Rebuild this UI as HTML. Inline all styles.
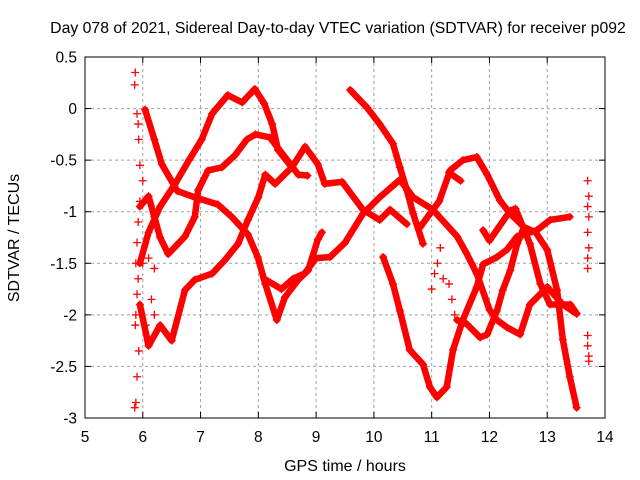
<!DOCTYPE html>
<html><head><meta charset="utf-8"><style>
body{margin:0;background:#fff}
svg{display:block;font-family:"Liberation Sans",sans-serif}
</style></head><body>
<svg id="chart" width="640" height="480">
<rect width="640" height="480" fill="#fff"/>
<g id="grid"></g>
<g id="tracks"></g>
<g id="axes"></g>
<text x="338" y="33" text-anchor="middle" font-size="15.8">Day 078 of 2021, Sidereal Day-to-day VTEC variation (SDTVAR) for receiver p092</text>
<text x="345" y="471" text-anchor="middle" font-size="16">GPS time / hours</text>
<text transform="translate(19,238) rotate(-90)" text-anchor="middle" font-size="16">SDTVAR / TECUs</text>
</svg>
<script>
const xTicks=[5,6,7,8,9,10,11,12,13,14];
const yTicks=[0.5,0,-0.5,-1,-1.5,-2,-2.5,-3];
const yTickLabels=["0.5","0","-0.5","-1","-1.5","-2","-2.5","-3"];
const trackT1=[[5.95,-1.5],[6.1,-1.2],[6.3,-0.95],[6.56,-0.73],[6.8,-0.5],[7.02,-0.3],[7.2,-0.05],[7.47,0.13],[7.72,0.06],[7.94,0.19],[8.1,0.05],[8.24,-0.15],[8.34,-0.4],[8.58,-0.57],[8.81,-0.37],[9.03,-0.54],[9.15,-0.73],[9.45,-0.71],[9.81,-0.98],[10.1,-1.08],[10.28,-0.98],[10.57,-1.12]];
const trackT2=[[6.04,-0.01],[6.2,-0.3],[6.33,-0.54],[6.6,-0.8],[6.9,-0.86],[7.3,-0.93],[7.54,-1.05],[7.82,-1.22],[7.99,-1.44],[8.12,-1.7],[8.32,-2.05],[8.46,-1.83],[8.69,-1.66],[8.86,-1.57],[9.03,-1.27],[9.1,-1.2]];
const trackT3=[[8.1,-1.65],[8.4,-1.75],[8.6,-1.65],[8.8,-1.6],[9.0,-1.45],[9.24,-1.44],[9.5,-1.3],[9.81,-1.02],[10.1,-0.86],[10.45,-0.69],[10.68,-0.86],[11.02,-0.98],[11.44,-1.24],[11.6,-1.4],[11.78,-1.6],[12.0,-1.95],[12.13,-2.05],[12.3,-2.12],[12.53,-2.19],[12.7,-1.9],[13.0,-1.73],[13.27,-1.9],[13.51,-1.99]];
const trackT4=[[9.59,0.18],[9.88,0.01],[10.1,-0.15],[10.33,-0.34],[10.45,-0.57],[10.57,-0.79],[10.68,-1.02],[10.85,-1.31]];
const trackT5=[[10.16,-1.44],[10.33,-1.7],[10.45,-1.96],[10.62,-2.34],[10.85,-2.48],[10.97,-2.7],[11.09,-2.8],[11.26,-2.7],[11.37,-2.34],[11.54,-2.05],[11.78,-1.73],[11.89,-1.51],[12.13,-1.44],[12.3,-1.37],[12.48,-1.24],[12.82,-1.18],[13.05,-1.08],[13.39,-1.05]];
const trackT6=[[10.8,-1.15],[10.97,-1.02],[11.13,-0.9],[11.32,-0.6],[11.54,-0.5],[11.78,-0.47],[11.96,-0.64],[12.18,-0.89],[12.36,-1.02],[12.6,-1.15],[12.8,-1.2],[13.0,-1.37],[13.17,-1.76],[13.27,-2.24],[13.39,-2.6],[13.51,-2.9]];
const trackT7=[[11.89,-1.18],[12.0,-1.28],[12.36,-0.99],[12.45,-0.97],[12.7,-1.31],[12.88,-1.7],[13.05,-1.9],[13.4,-1.9],[13.5,-1.98]];
const trackT8=[[11.44,-2.05],[11.61,-2.09],[11.84,-2.22],[11.96,-2.19],[12.13,-1.96],[12.23,-1.76],[12.36,-1.57],[12.48,-1.31],[12.58,-1.18]];
const trackT9=[[5.95,-0.95],[6.1,-0.85],[6.2,-1.05],[6.3,-1.25],[6.44,-1.41],[6.73,-1.24],[6.9,-1.05],[6.96,-0.79],[7.13,-0.6],[7.37,-0.57],[7.6,-0.45],[7.8,-0.3],[7.95,-0.25],[8.2,-0.28],[8.46,-0.47],[8.69,-0.64],[8.85,-0.65]];
const trackT10=[[5.95,-1.9],[6.1,-2.3],[6.3,-2.1],[6.5,-2.25],[6.73,-1.76],[6.9,-1.66],[7.2,-1.6],[7.42,-1.47],[7.65,-1.31],[7.82,-1.08],[8.0,-0.86],[8.12,-0.64],[8.29,-0.73],[8.58,-0.57]];
const trackT11=[[11.3,-0.62],[11.5,-0.7]];
const scatterLeft=[[5.87,0.35],[5.86,0.23],[5.9,-0.05],[5.92,-0.15],[5.93,-0.3],[5.95,-0.55],[6.0,-0.7],[5.95,-0.9],[5.92,-1.1],[5.9,-1.3],[5.88,-1.5],[5.92,-1.65],[5.9,-1.8],[5.88,-2.0],[5.87,-2.1],[5.93,-2.35],[5.9,-2.6],[5.88,-2.85],[5.86,-2.9],[6.0,-1.5],[6.1,-1.45],[6.2,-1.55],[6.05,-2.1],[6.15,-1.85],[6.2,-2.0]];
const scatterMid=[[11.0,-1.75],[11.05,-1.6],[11.1,-1.5],[11.15,-1.35],[11.2,-1.65],[11.3,-1.7],[11.35,-1.85],[11.4,-2.0]];
const scatterRight=[[13.7,-0.7],[13.72,-0.85],[13.7,-0.95],[13.72,-1.05],[13.7,-1.2],[13.72,-1.35],[13.7,-1.45],[13.7,-1.55],[13.7,-2.2],[13.7,-2.3],[13.72,-2.4],[13.72,-2.45]];
const tracks=[trackT1,trackT2,trackT3,trackT4,trackT5,trackT6,trackT7,trackT8,trackT9,trackT10,trackT11];
const scatters=[scatterLeft,scatterMid,scatterRight];

const L=85,R=605,T=57,B=418;
const xS=h=>L+(h-5)/(14-5)*(R-L);
const yS=v=>T+(0.5-v)/(0.5+3)*(B-T);
const NS="http://www.w3.org/2000/svg";
function mk(tag,attrs,parent){const e=document.createElementNS(NS,tag);for(const k in attrs)e.setAttribute(k,attrs[k]);parent.appendChild(e);return e;}
const grid=document.getElementById('grid'),axes=document.getElementById('axes'),tg=document.getElementById('tracks');
xTicks.forEach((t,i)=>{const x=xS(t);
 if(i>0&&i<xTicks.length-1){const g=mk('line',{x1:x,x2:x,y1:T,y2:B,stroke:'#a0a0a0','stroke-dasharray':'3,3'},grid);
 
 }
 mk('line',{x1:x,x2:x,y1:B,y2:B-6,stroke:'#000'},axes);mk('line',{x1:x,x2:x,y1:T,y2:T+6,stroke:'#000'},axes);
 const lb=mk('text',{x:x,y:B+24,'text-anchor':'middle','font-size':15.5},axes);lb.textContent=t;
 
 });
yTicks.forEach((t,i)=>{const y=yS(t);
 if(i>0&&i<yTicks.length-1){const g=mk('line',{x1:L,x2:R,y1:y,y2:y,stroke:'#a0a0a0','stroke-dasharray':'3,3'},grid);
 
 }
 mk('line',{x1:L,x2:L+6,y1:y,y2:y,stroke:'#000'},axes);mk('line',{x1:R,x2:R-6,y1:y,y2:y,stroke:'#000'},axes);
 const lb=mk('text',{x:L-8,y:y+5.5,'text-anchor':'end','font-size':15.5},axes);lb.textContent=yTickLabels[i];
 
 });
const frame=mk('rect',{x:L,y:T,width:R-L,height:B-T,fill:'none',stroke:'#000','stroke-width':1},axes);


function plus(p,parent){const x=xS(p[0]),y=yS(p[1]);
 const e=mk('path',{d:`M${x-4},${y}h8M${x},${y-4}v8`,stroke:'#f00','stroke-width':1.3,fill:'none'},parent);
 
 }
tracks.forEach(tr=>{const g=mk('g',{},tg);
 
 
 const pl=mk('polyline',{points:tr.map(p=>xS(p[0])+','+yS(p[1])).join(' '),fill:'none',stroke:'#f00','stroke-width':6.5,'stroke-linejoin':'round','stroke-linecap':'round'},g);
 
 
 tr.forEach(p=>plus(p,g));});
scatters.forEach(sc=>{const g=mk('g',{},tg);
 
 
 sc.forEach(p=>plus(p,g));});
</script>
</body></html>
